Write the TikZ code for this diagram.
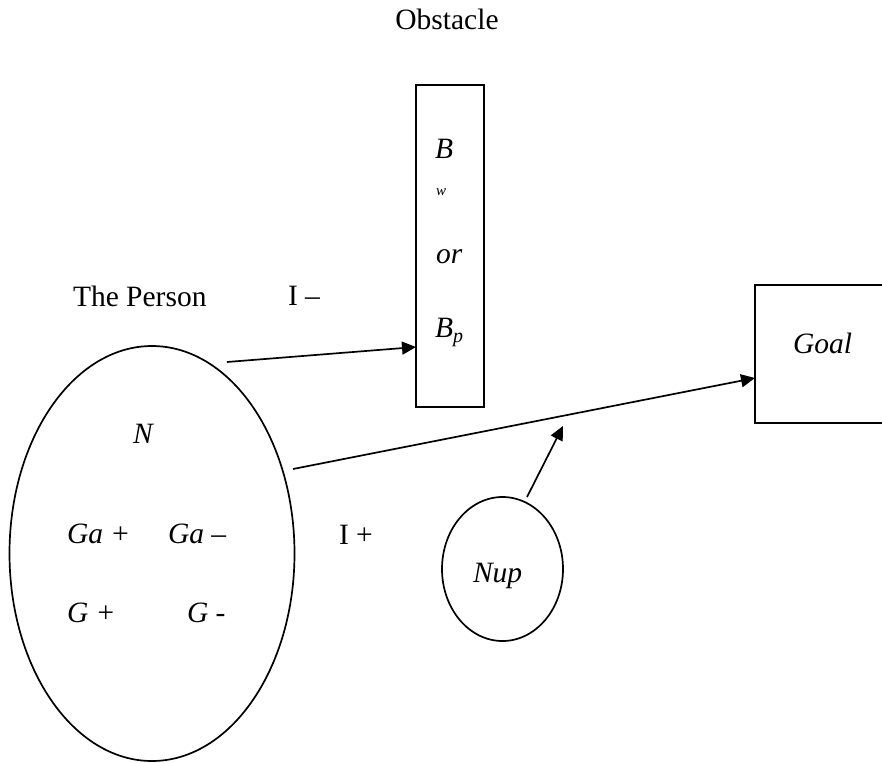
\documentclass[tikz,border=0pt]{standalone}
\usepackage{fontspec}
\setmainfont{Liberation Serif}
\usetikzlibrary{shapes.geometric,arrows.meta}
\begin{document}
\begin{tikzpicture}[x=1pt,y=-1pt,
  txt/.style={anchor=base west,inner sep=0pt,outer sep=0pt,font=\fontsize{29.5}{34}\selectfont},
  itx/.style={txt,font=\fontsize{29.5}{34}\selectfont\itshape},
  box/.style={draw,line width=1.7pt,inner sep=0pt,outer sep=0pt,anchor=north west},
  oval/.style={draw,ellipse,line width=1.7pt,inner sep=0pt,outer sep=0pt},
  arr/.style={line width=1.7pt,-{Triangle[length=14pt,width=13pt]}}]
\useasboundingbox (0,0) rectangle (882,762);
% shapes
\node[box,minimum width=68pt,minimum height=322pt] (obst) at (416,85) {};
\node[box,minimum width=150pt,minimum height=138pt,line width=2pt] (goal) at (755,285) {};
\node[oval,minimum width=285pt,minimum height=415pt] (person) at (152,553.5) {};
\node[oval,minimum width=121pt,minimum height=144pt] (nup) at (502.5,569) {};
% texts
\node[txt,anchor=base] (tobst) at (447,30) {Obstacle};
\node[txt] (tperson) at (73,306) {The Person};
\node[txt] (iminus) at (288,305) {I –};
\node[txt] (iplus) at (339,544) {I +};
\node[itx] (tb) at (435,158) {B};
\node[txt,font=\fontsize{15}{18}\selectfont\itshape] (tw) at (436,195) {w};
\node[itx] (tor) at (436,263) {or};
\node[itx] (tbp) at (435,337) {B\raisebox{-5pt}{\fontsize{20}{22}\selectfont p}};
\node[itx] (tgoal) at (793,353) {Goal};
\node[itx] (tn) at (133,443) {N};
\node[itx] (tgap) at (67,543) {Ga +};
\node[itx] (tgam) at (168,543) {Ga –};
\node[itx] (tgp) at (67,622) {G +};
\node[itx] (tgm) at (187,622) {G -};
\node[itx] (tnup) at (473,582) {Nup};
% connectors
\coordinate (a1s) at (227,362);
\coordinate (a2s) at (293,469);
\coordinate (a3s) at (527,497);
\coordinate (a3e) at (563,426);
\draw[arr] (a1s) -- ([yshift=60pt]obst.south west);
\draw[arr] (a2s) -- ([yshift=45pt]goal.south west);
\draw[arr] (a3s) -- (a3e);
\end{tikzpicture}
\end{document}
